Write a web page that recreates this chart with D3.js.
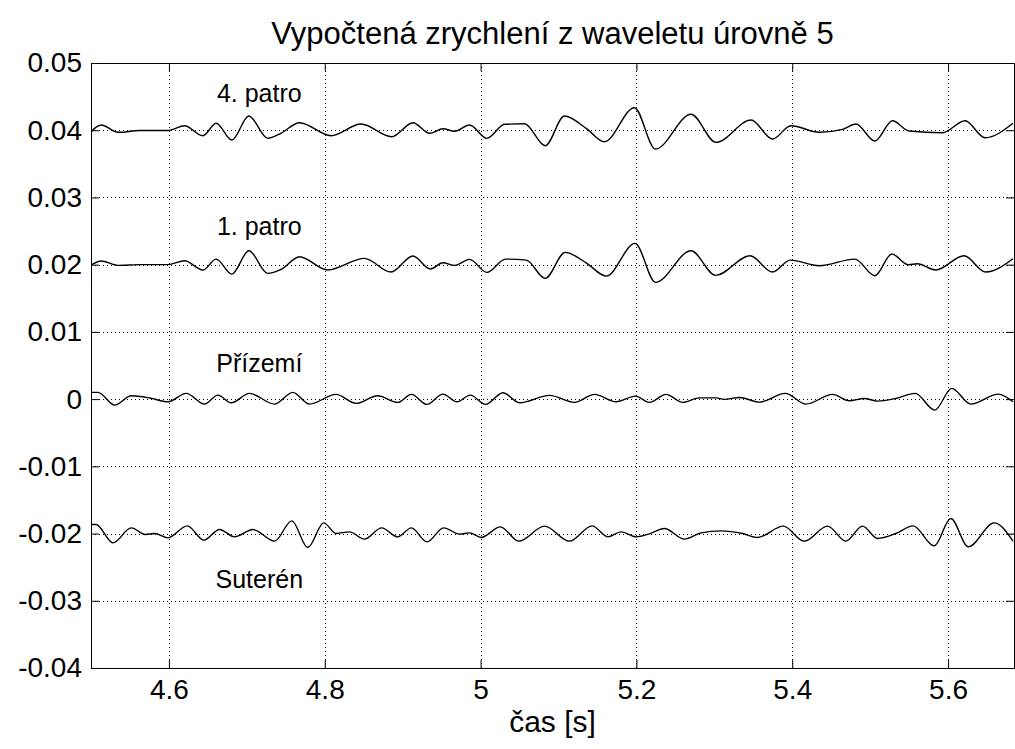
<!DOCTYPE html>
<html><head><meta charset="utf-8">
<script src="https://cdn.jsdelivr.net/npm/d3@7"></script>
<style>body{margin:0;background:#fff}svg{display:block}text{font-family:"Liberation Sans",Arial,sans-serif;fill:#000}</style>
</head><body>
<script>
const xTicks = [4.6, 4.8, 5.0, 5.2, 5.4, 5.6];
const yTicks = [-0.04, -0.03, -0.02, -0.01, 0, 0.01, 0.02, 0.03, 0.04, 0.05];
const yTickLabels = ["-0.04","-0.03","-0.02","-0.01","0","0.01","0.02","0.03","0.04","0.05"];
const seriesNames = ["4. patro", "1. patro", "Přízemí", "Suterén"];

const tPatro4 = [4.500,4.5132,4.5346,4.5628,4.5987,4.6201,4.6436,4.6606,4.6808,4.7026,4.7269,4.7436,4.7676,4.8081,4.8465,4.8859,4.9132,4.9346,4.9517,4.9667,4.9859,5.0081,5.0308,5.0564,5.0829,5.1077,5.1355,5.1590,5.1974,5.2244,5.2701,5.3022,5.3471,5.3747,5.3983,5.4346,5.4645,5.4817,5.5060,5.5286,5.5500,5.5927,5.6218,5.6474,5.6833];
const vPatro4 = [0.03978,0.04077,0.03969,0.03995,0.03995,0.04067,0.03918,0.04103,0.03854,0.04211,0.03879,0.03954,0.04112,0.03918,0.04092,0.03903,0.04112,0.03954,0.04022,0.03984,0.04077,0.03879,0.04088,0.04097,0.03769,0.04211,0.04028,0.03829,0.04335,0.03720,0.04237,0.03820,0.04152,0.03869,0.04067,0.03969,0.04013,0.04092,0.03839,0.04141,0.03988,0.03963,0.04141,0.03888,0.04103];

const tPatro1 = [4.500,4.5132,4.5346,4.5628,4.5987,4.6201,4.6436,4.6606,4.6808,4.7026,4.7269,4.7440,4.7676,4.8038,4.8509,4.8850,4.9132,4.9355,4.9517,4.9667,4.9859,5.0081,5.0321,5.0586,5.0829,5.1086,5.1355,5.1612,5.1983,5.2244,5.2701,5.3017,5.3458,5.3747,5.3974,5.4346,5.4804,5.5060,5.5278,5.5491,5.5606,5.5842,5.6205,5.6483,5.6833];
const vPatro1 = [0.01994,0.02054,0.01990,0.02001,0.02001,0.02058,0.01920,0.02083,0.01860,0.02207,0.01871,0.01930,0.02118,0.01920,0.02094,0.01890,0.02128,0.01935,0.02028,0.01990,0.02079,0.01885,0.02083,0.02068,0.01796,0.02183,0.02028,0.01830,0.02317,0.01737,0.02207,0.01841,0.02132,0.01890,0.02068,0.01984,0.02083,0.01835,0.02158,0.01999,0.02013,0.01920,0.02132,0.01890,0.02088];

const tPrizemi = [4.500,4.5090,4.5304,4.5517,4.5756,4.5987,4.6222,4.6458,4.6628,4.6799,4.7035,4.7355,4.7590,4.7804,4.8145,4.8401,4.8679,4.8936,4.9112,4.9312,4.9517,4.9696,4.9868,5.0064,5.0286,5.0500,5.0885,5.1205,5.1462,5.1740,5.1987,5.2167,5.2381,5.2594,5.2808,5.3022,5.3128,5.3321,5.3577,5.3910,5.4176,5.4517,5.4731,5.4923,5.5094,5.5329,5.5577,5.5829,5.6047,5.6291,5.6645,5.6833];
const vPrizemi = [0.00100,0.00100,-0.00089,0.00049,0.00016,-0.00040,0.00085,-0.00074,0.00060,-0.00055,0.00085,-0.00074,0.00100,-0.00074,0.00070,-0.00064,0.00049,-0.00049,0.00070,-0.00079,0.00074,-0.00040,0.00060,-0.00079,0.00094,-0.00055,0.00055,-0.00049,0.00070,-0.00040,0.00045,-0.00049,0.00070,-0.00049,0.00019,0.00019,-0.00004,0.00025,-0.00045,0.00085,-0.00074,0.00070,-0.00025,0.00010,-0.00030,0.00010,0.00085,-0.00164,0.00159,-0.00074,0.00074,-0.00040];

const tSuteren = [4.500,4.5064,4.5282,4.5517,4.5696,4.5817,4.5987,4.6235,4.6449,4.6650,4.6842,4.7077,4.7355,4.7577,4.7782,4.7987,4.8145,4.8317,4.8509,4.8731,4.8936,4.9112,4.9312,4.9526,4.9731,4.9859,5.0009,5.0253,5.0491,5.0821,5.1141,5.1432,5.1632,5.1804,5.1996,5.2167,5.2359,5.2615,5.2829,5.3086,5.3363,5.3555,5.3885,5.4154,5.4453,5.4688,5.4901,5.5094,5.5329,5.5551,5.5821,5.6035,5.6260,5.6590,5.6833];
const vSuteren = [-0.01865,-0.01865,-0.02138,-0.01915,-0.02013,-0.01999,-0.02064,-0.01885,-0.02098,-0.01939,-0.02049,-0.01939,-0.02113,-0.01811,-0.02207,-0.01841,-0.01999,-0.01975,-0.02083,-0.01915,-0.02049,-0.01915,-0.02124,-0.01915,-0.02009,-0.01990,-0.02058,-0.01900,-0.02113,-0.01890,-0.02113,-0.01885,-0.02049,-0.01975,-0.02049,-0.02004,-0.01924,-0.02083,-0.01990,-0.01960,-0.01999,-0.02058,-0.01890,-0.02113,-0.01890,-0.02113,-0.01890,-0.02073,-0.01999,-0.01885,-0.02183,-0.01775,-0.02198,-0.01841,-0.02113];

const labelPos = [[4.716, 0.0442], [4.716, 0.0244], [4.716, 0.0040], [4.716, -0.0281]];

const W = 1015, H = 749;
const m = {left: 91, right: 1014, top: 63, bottom: 668};
const FS = 28;
const svg = d3.select("body").append("svg").attr("width", W).attr("height", H);
const x = d3.scaleLinear().domain([4.5, 5.6846]).range([m.left, m.right]);
const y = d3.scaleLinear().domain([-0.04, 0.05]).range([m.bottom, m.top]);

// grid
const grid = svg.append("g").attr("stroke", "#000").attr("stroke-width", 1).attr("stroke-dasharray", "1,3");
grid.selectAll("line.gx").data(xTicks).join("line").attr("class","gx")
  .attr("x1", d => Math.round(x(d))+0.5).attr("x2", d => Math.round(x(d))+0.5).attr("y1", m.top).attr("y2", m.bottom);
grid.selectAll("line.gy").data(yTicks.slice(1, -1)).join("line").attr("class","gy")
  .attr("y1", d => Math.round(y(d))+0.5).attr("y2", d => Math.round(y(d))+0.5).attr("x1", m.left).attr("x2", m.right);

// axes
const xAxis = d3.axisBottom(x).tickValues(xTicks).tickSizeInner(-8).tickSizeOuter(0).tickPadding(11).tickFormat(d3.format("~g"));
svg.append("g").attr("transform", `translate(0,${m.bottom})`).call(xAxis);
const xAxisTop = d3.axisTop(x).tickValues(xTicks).tickSizeInner(-8).tickSizeOuter(0).tickFormat("");
svg.append("g").attr("transform", `translate(0,${m.top})`).call(xAxisTop);
const yAxis = d3.axisLeft(y).tickValues(yTicks).tickSizeInner(-8).tickSizeOuter(0).tickPadding(9).tickFormat((d,i) => yTickLabels[i]);
svg.append("g").attr("transform", `translate(${m.left},0)`).call(yAxis);
const yAxisR = d3.axisRight(y).tickValues(yTicks).tickSizeInner(-8).tickSizeOuter(0).tickFormat("");
svg.append("g").attr("transform", `translate(${m.right},0)`).call(yAxisR);
svg.selectAll(".domain").attr("stroke", "#000").attr("stroke-width", 1);
svg.selectAll(".tick line").attr("stroke", "#000");
svg.selectAll(".tick text").attr("font-size", FS).attr("font-family", '"Liberation Sans",Arial,sans-serif').attr("fill", "#000");

// lines
const series = [[tPatro4, vPatro4], [tPatro1, vPatro1], [tPrizemi, vPrizemi], [tSuteren, vSuteren]];
const line = d3.line().x(d => x(d[0])).y(d => y(d[1])).curve(d3.curveMonotoneX);
svg.append("clipPath").attr("id","c").append("rect").attr("x", m.left).attr("y", m.top).attr("width", m.right-m.left).attr("height", m.bottom-m.top);
svg.append("g").attr("clip-path","url(#c)").selectAll("path.s").data(series).join("path")
  .attr("fill", "none").attr("stroke", "#000").attr("stroke-width", 1.4)
  .attr("d", s => line(s[0].map((t, i) => [t, s[1][i]])));

// series labels
svg.selectAll("text.lab").data(seriesNames).join("text").attr("class","lab")
  .attr("x", (d,i) => x(labelPos[i][0])).attr("y", (d,i) => y(labelPos[i][1]))
  .attr("text-anchor", "middle").attr("font-size", 25).text(d => d);

// title & xlabel
svg.append("text").attr("x", (m.left+m.right)/2).attr("y", 44).attr("text-anchor","middle").attr("font-size", 31)
  .text("Vypočtená zrychlení z waveletu úrovně 5");
svg.append("text").attr("x", (m.left+m.right)/2).attr("y", 732).attr("text-anchor","middle").attr("font-size", 30)
  .text("čas [s]");
</script>
</body></html>
